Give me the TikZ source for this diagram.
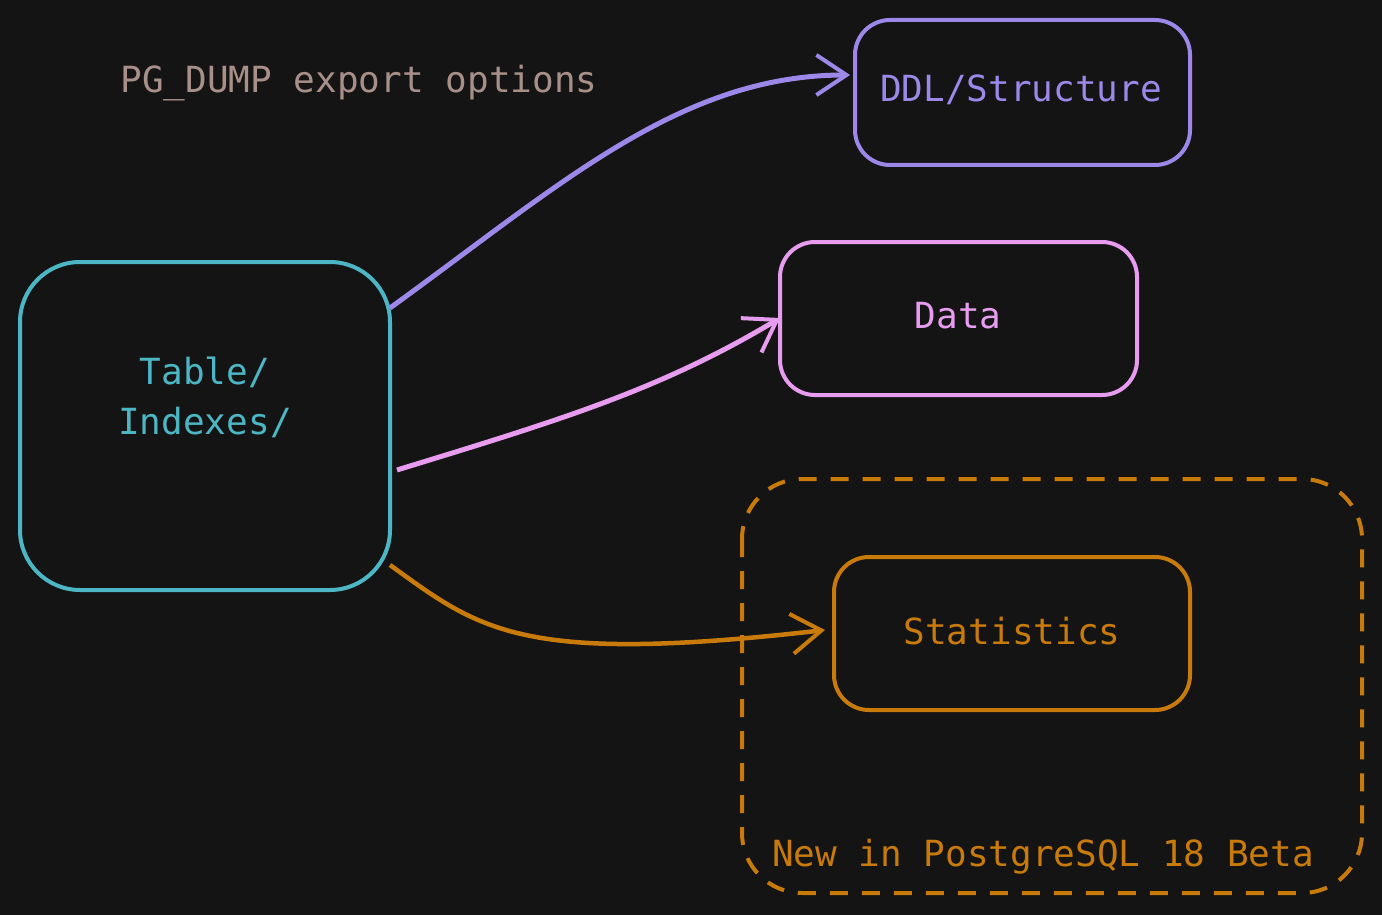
\documentclass[tikz,border=0pt]{standalone}
\usepackage{fontspec}
\setmonofont{DejaVu Sans Mono}
\usetikzlibrary{arrows.meta}
\definecolor{bg}{HTML}{141414}
\definecolor{cy}{HTML}{4DB6C4}
\definecolor{pu}{HTML}{9C88E8}
\definecolor{pk}{HTML}{E79CF0}
\definecolor{orr}{HTML}{C87A0A}
\definecolor{ti}{HTML}{A89088}
\tikzset{
 box/.style={draw,line width=4pt,rounded corners=35pt,inner sep=0pt},
 lbl/.style={font=\ttfamily\fontsize{36}{50}\selectfont,align=center},
 conn/.style={line width=5pt,-{Straight Barb[length=30pt,width=40pt,line width=4pt]}}
}
\begin{document}
\begin{tikzpicture}[x=1pt,y=-1pt]
\fill[bg] (0,0) rectangle (1382,915);
\useasboundingbox (0,0) rectangle (1382,915);
\node[lbl,text=ti] (title) at (359,83) {PG\_DUMP export options};
\draw[cy,box,rounded corners=60pt] (20,262) rectangle (390,590);
\node[lbl,text=cy] (tbl) at (205,397) {Table/\\Indexes/};
\draw[pu,box] (855,20) rectangle (1190,165);
\node[lbl,text=pu] (ddl) at (1021,90) {DDL/Structure};
\draw[pk,box] (780,242) rectangle (1137,395);
\node[lbl,text=pk] (data) at (958,316) {Data};
\draw[orr,box] (834,557) rectangle (1190,710);
\node[lbl,text=orr] (stat) at (1012,631) {Statistics};
\draw[orr,line width=4pt,dash pattern=on 18pt off 14pt,rounded corners=60pt] (742,479) rectangle (1362,893);
\node[lbl,text=orr] (new) at (1043,857) {New in PostgreSQL 18 Beta};
\coordinate (a1) at (390,308); \coordinate (b1) at (850,75);
\coordinate (a2) at (397,470); \coordinate (b2) at (780,318);
\coordinate (a3) at (390,565); \coordinate (b3) at (825,630);
\draw[conn,pu] (a1) .. controls (560,185) and (680,75) .. (b1);
\draw[conn,pk] (a2) .. controls (560,420) and (660,390) .. (b2);
\draw[conn,orr,line width=4.5pt] (a3) .. controls (480,630) and (520,665) .. (b3);
\end{tikzpicture}
\end{document}
